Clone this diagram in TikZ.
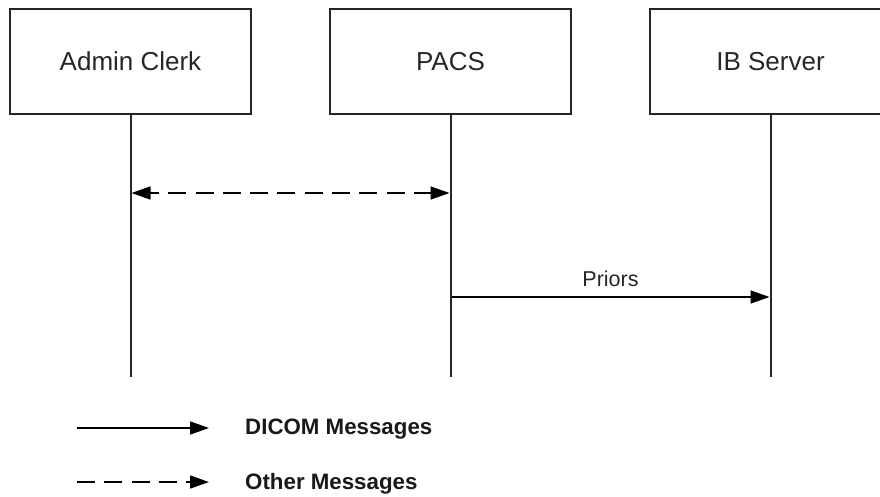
\documentclass[tikz,border=0pt]{standalone}
\usepackage{fontspec}
\setmainfont{Liberation Sans}
\usetikzlibrary{arrows.meta}
\begin{document}
\begin{tikzpicture}[x=1pt,y=-1pt,
  actor/.style={draw=black!85, line width=2pt, minimum width=241pt, minimum height=105pt, inner sep=0pt, font=\fontsize{26}{30}\selectfont, text=black!85},
  life/.style={draw=black!85, line width=2pt},
  tip/.tip={Triangle[length=19pt,width=13pt]},
  msg/.style={draw=black, line width=1.7pt, -tip},
  omsg/.style={msg, dash pattern=on 18pt off 9.3pt},
  lbl/.style={font=\fontsize{21.5}{24}\selectfont, text=black!85},
  leg/.style={font=\bfseries\fontsize{22.3}{25}\selectfont, text=black!90, anchor=west, inner sep=0pt}]
\useasboundingbox (0,0) rectangle (880,497);
\node[actor] (ac) at (130.5,61.5) {Admin Clerk};
\node[actor] (pacs) at (450.5,61.5) {PACS};
\node[actor] (ib) at (770.5,61.5) {IB Server};
\coordinate (acend) at (130.5,377);
\coordinate (pacsend) at (450.5,377);
\coordinate (ibend) at (770.5,377);
\draw[life] (ac.south) -- (acend);
\draw[life] (pacs.south) -- (pacsend);
\draw[life] (ib.south) -- (ibend);
\coordinate (d1) at (131.5,193);
\coordinate (d2) at (449.5,193);
\draw[omsg, dash phase=9.1pt, tip-tip] (d1) -- (d2);
\coordinate (p1) at (451.5,297);
\coordinate (p2) at (769.5,297);
\draw[msg] (p1) -- node[lbl, above=6pt] (priors) {Priors} (p2);
\coordinate (l1a) at (77,428);
\coordinate (l1b) at (209,428);
\draw[msg] (l1a) -- (l1b);
\node[leg] (dicom) at (245,429.5) {DICOM Messages};
\coordinate (l2a) at (77,482);
\coordinate (l2b) at (209,482);
\draw[omsg] (l2a) -- (l2b);
\node[leg] (other) at (245,483.5) {Other Messages};
\end{tikzpicture}
\end{document}
